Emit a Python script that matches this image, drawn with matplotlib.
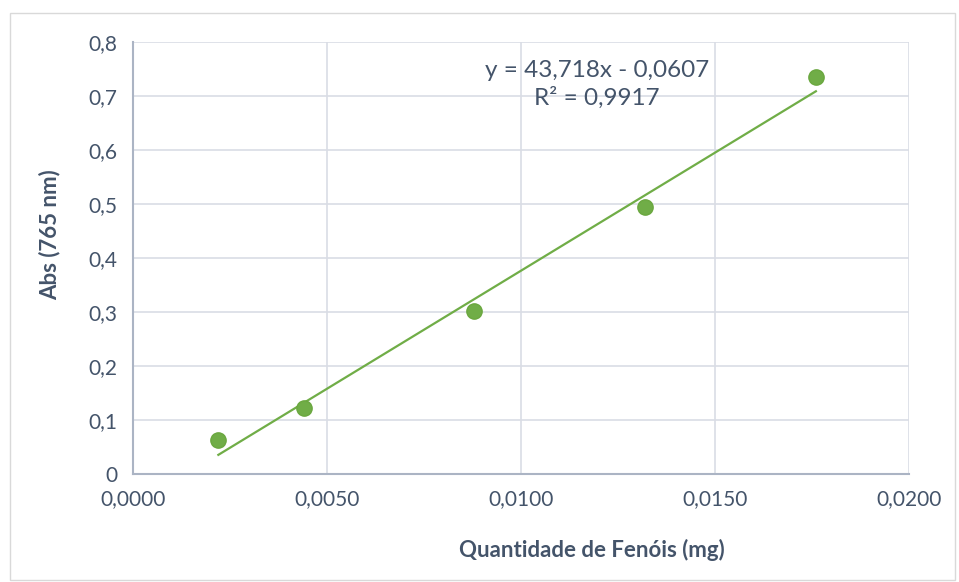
import numpy as np
import matplotlib.pyplot as plt
from matplotlib.patches import Rectangle
from matplotlib.ticker import FuncFormatter

# Calibration data: phenol amount (mg) vs absorbance at 765 nm
quantidade = [0.0022, 0.0044, 0.0088, 0.0132, 0.0176]
absorbancia = [0.063, 0.122, 0.301, 0.494, 0.736]
slope = 43.718
intercept = -0.0607
r2 = 0.9917

green = '#70AD47'
text_color = '#44546A'
grid_color = '#D9DDE5'
spine_color = '#ABB4C4'

plt.rcParams['font.family'] = ['Lato', 'DejaVu Sans']

fig = plt.figure(figsize=(9.59, 5.82), dpi=100)
ax = fig.add_axes([133 / 959, 1 - 474 / 582, (909 - 133) / 959, (474 - 42) / 582])

# chart border
fig.patches.append(Rectangle((10 / 959, 2 / 582), 945 / 959, 567 / 582,
                             transform=fig.transFigure, fill=False,
                             edgecolor='#D9D9D9', linewidth=1))

# linear trendline over the data range
xs = np.array([quantidade[0], quantidade[-1]])
ax.plot(xs, slope * xs + intercept, color=green, linewidth=1.6, zorder=2)
ax.plot(quantidade, absorbancia, 'o', color=green, markersize=11,
        markeredgecolor='#6AA73F', zorder=3)

ax.set_xlim(0, 0.02)
ax.set_ylim(0, 0.8)
ax.set_xticks(np.arange(0, 0.0201, 0.005))
ax.set_yticks(np.arange(0, 0.81, 0.1))
ax.xaxis.set_major_formatter(FuncFormatter(lambda v, p: f'{v:.4f}'.replace('.', ',')))
ax.yaxis.set_major_formatter(FuncFormatter(
    lambda v, p: '0' if abs(v) < 1e-9 else f'{v:.1f}'.replace('.', ',')))

ax.grid(True, color=grid_color, linewidth=1.2)
ax.set_axisbelow(True)
for side in ['top', 'right']:
    ax.spines[side].set_visible(False)
for side in ['left', 'bottom']:
    ax.spines[side].set_color(spine_color)
    ax.spines[side].set_linewidth(1.5)
ax.tick_params(length=0, labelsize=15, colors=text_color, pad=11)

ax.text(0.01195, 0.747, f'y = {slope:.3f}x - {abs(intercept):.4f}'.replace('.', ','),
        ha='center', va='center', fontsize=17.5, color=text_color)
ax.text(0.01195, 0.697, f'R² = {r2:.4f}'.replace('.', ','),
        ha='center', va='center', fontsize=17.5, color=text_color)

fig.text(592 / 959, 1 - 550 / 582, 'Quantidade de Fenóis (mg)', ha='center', va='center',
         fontsize=16, fontweight='bold', color=text_color)
fig.text(50 / 959, 1 - 235 / 582, 'Abs (765 nm)', ha='center', va='center',
         rotation=90, fontsize=16, fontweight='bold', color=text_color)

fig.savefig('out.png', dpi=100)
